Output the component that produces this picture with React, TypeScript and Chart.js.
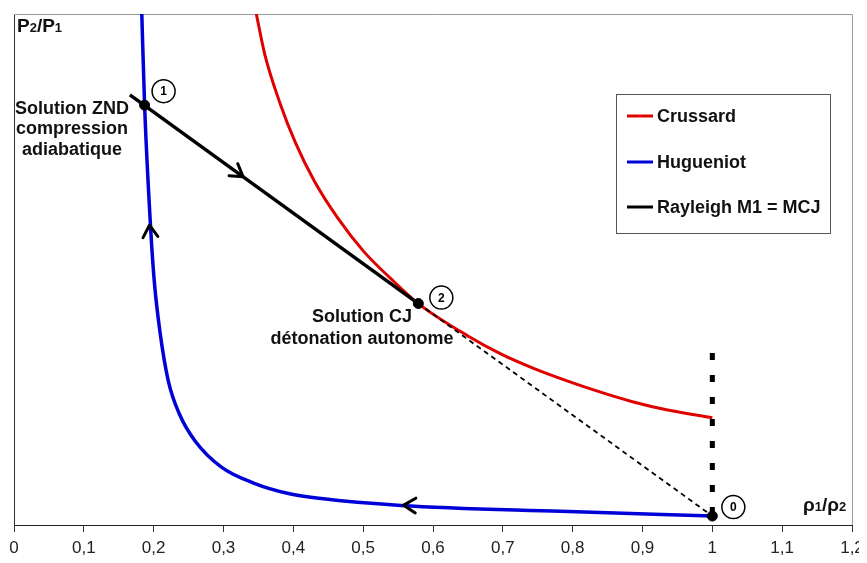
import React, { useEffect, useRef } from 'react';
import { Chart, registerables } from 'chart.js';

Chart.register(...registerables);

// ---- data (x = rho1/rho2, y = P2/P1) ----
const tickLabels = ['0', '0,1', '0,2', '0,3', '0,4', '0,5', '0,6', '0,7', '0,8', '0,9', '1', '1,1', '1,2'];

const crussardX = [0.347, 0.359, 0.381, 0.403, 0.43, 0.464, 0.501, 0.54, 0.579, 0.65, 0.697, 0.744, 0.793, 0.84, 0.887, 0.936, 1.0];
const crussardY = [60, 55.3, 49.5, 44.9, 40.4, 36.0, 32.1, 28.9, 26.0, 22.2, 20.1, 18.4, 16.9, 15.6, 14.45, 13.5, 12.6];

const hugueniotX = [0.183, 0.187, 0.196, 0.201, 0.209, 0.221, 0.237, 0.259, 0.297, 0.344, 0.393, 0.44, 0.554, 0.783, 1.0];
const hugueniotY = [60, 49.3, 34.4, 28.5, 22.7, 16.9, 13.0, 9.9, 6.8, 4.9, 3.7, 3.1, 2.3, 1.6, 1.05];

const rayleighX = [0.166, 0.579];
const rayleighY = [50.5, 26.0];
const rayleighDashX = [0.579, 1.0];
const rayleighDashY = [26.0, 1.05];

const limitX = [1.0, 1.0];
const limitY = [20.2, 1.05];

const stateX = [0.187, 0.579, 1.0];
const stateY = [49.3, 26.0, 1.05];
const stateLabels = ['1', '2', '0'];

// arrows: tip and a point behind it (direction)
const arrowTipX = [0.194, 0.328, 0.558];
const arrowTipY = [35.2, 40.9, 2.33];
const arrowFromX = [0.199, 0.3, 0.6];
const arrowFromY = [30.0, 42.56, 2.2];

const legendNames = ['Crussard', 'Hugueniot', 'Rayleigh M1 = MCJ'];
const legendColors = ['#e00000', '#0000d8', '#000000'];

const FONT = '"Liberation Sans", Arial, Helvetica, sans-serif';

const pts = (xs: number[], ys: number[]) => xs.map((x, i) => ({ x, y: ys[i] }));

const decorPlugin = {
  id: 'decor',
  beforeDatasetsDraw(chart: any) {
    const { ctx, chartArea: a } = chart;
    ctx.save();
    ctx.strokeStyle = '#9a9a9a';
    ctx.lineWidth = 1;
    ctx.beginPath();
    ctx.moveTo(a.left, Math.round(a.top) + 0.5);
    ctx.lineTo(Math.round(a.right) + 0.5, Math.round(a.top) + 0.5);
    ctx.lineTo(Math.round(a.right) + 0.5, a.bottom);
    ctx.stroke();
    ctx.restore();
  },
  afterDatasetsDraw(chart: any) {
    const { ctx } = chart;
    const xs = chart.scales.x;
    const ys = chart.scales.y;
    const px = (v: number) => xs.getPixelForValue(v);
    const py = (v: number) => ys.getPixelForValue(v);
    ctx.save();

    // arrows (open chevrons)
    ctx.strokeStyle = '#000';
    ctx.lineWidth = 3;
    ctx.lineCap = 'round';
    ctx.lineJoin = 'round';
    for (let i = 0; i < arrowTipX.length; i++) {
      const tx = px(arrowTipX[i]);
      const ty = py(arrowTipY[i]);
      const fx = px(arrowFromX[i]);
      const fy = py(arrowFromY[i]);
      const ang = Math.atan2(ty - fy, tx - fx);
      const L = 14;
      const h = (32 * Math.PI) / 180;
      ctx.beginPath();
      ctx.moveTo(tx - L * Math.cos(ang - h), ty - L * Math.sin(ang - h));
      ctx.lineTo(tx, ty);
      ctx.lineTo(tx - L * Math.cos(ang + h), ty - L * Math.sin(ang + h));
      ctx.stroke();
    }

    // circled state numbers
    const offs = [
      [19, -14],
      [23, -6],
      [21, -9],
    ];
    ctx.lineWidth = 1.5;
    for (let i = 0; i < stateX.length; i++) {
      const cx = px(stateX[i]) + offs[i][0];
      const cy = py(stateY[i]) + offs[i][1];
      ctx.beginPath();
      ctx.arc(cx, cy, 11.5, 0, Math.PI * 2);
      ctx.fillStyle = '#fff';
      ctx.fill();
      ctx.stroke();
      ctx.fillStyle = '#000';
      ctx.font = `bold 12px ${FONT}`;
      ctx.textAlign = 'center';
      ctx.textBaseline = 'middle';
      ctx.fillText(stateLabels[i], cx, cy + 1);
    }

    // annotations
    ctx.fillStyle = '#111';
    ctx.textBaseline = 'alphabetic';
    ctx.textAlign = 'center';
    ctx.font = `bold 18px ${FONT}`;
    ctx.fillText('Solution ZND', 64, 106);
    ctx.fillText('compression', 64, 126);
    ctx.fillText('adiabatique', 64, 147);
    ctx.fillText('Solution CJ', 354, 314);
    ctx.fillText('détonation autonome', 354, 336);

    // axis titles with subscripts
    const sub = (parts: [string, boolean][], x: number, y: number) => {
      ctx.textAlign = 'left';
      let cx = x;
      for (const [t, s] of parts) {
        ctx.font = s ? `bold 13px ${FONT}` : `bold 19px ${FONT}`;
        ctx.fillText(t, cx, y);
        cx += ctx.measureText(t).width;
      }
    };
    sub([['P', false], ['2', true], ['/P', false], ['1', true]], 9, 24);
    sub([['ρ', false], ['1', true], ['/ρ', false], ['2', true]], 795, 503);

    ctx.restore();
  },
  afterDraw(chart: any) {
    const { ctx } = chart;
    ctx.save();
    // legend box
    ctx.fillStyle = '#fff';
    ctx.fillRect(608, 86, 214, 139);
    ctx.strokeStyle = '#555';
    ctx.lineWidth = 1;
    ctx.strokeRect(608.5, 86.5, 214, 139);
    const rows = [108, 154, 199];
    for (let i = 0; i < legendNames.length; i++) {
      ctx.strokeStyle = legendColors[i];
      ctx.lineWidth = 3;
      ctx.beginPath();
      ctx.moveTo(619, rows[i]);
      ctx.lineTo(645, rows[i]);
      ctx.stroke();
      ctx.fillStyle = '#111';
      ctx.font = `bold 18px ${FONT}`;
      ctx.textAlign = 'left';
      ctx.textBaseline = 'middle';
      ctx.fillText(legendNames[i], 649, rows[i] + 1);
    }
    ctx.restore();
  },
};

export default function App() {
  const ref = useRef<HTMLCanvasElement | null>(null);

  useEffect(() => {
    document.body.style.overflow = 'hidden';
    if (!ref.current) return;
    Chart.defaults.font.family = FONT;
    const chart = new Chart(ref.current, {
      type: 'line',
      data: {
        datasets: [
          {
            label: 'points',
            data: pts(stateX, stateY),
            showLine: false,
            pointRadius: 5,
            pointBackgroundColor: '#000',
            pointBorderColor: '#000',
            order: 0,
          },
          {
            label: 'Rayleigh M1 = MCJ',
            data: pts(rayleighX, rayleighY),
            borderColor: '#000',
            borderWidth: 3.5,
            pointRadius: 0,
            order: 1,
          },
          {
            label: 'Rayleigh (prolongement)',
            data: pts(rayleighDashX, rayleighDashY),
            borderColor: '#000',
            borderWidth: 1.8,
            borderDash: [5, 4],
            pointRadius: 0,
            order: 2,
          },
          {
            label: 'limite',
            data: pts(limitX, limitY),
            borderColor: '#000',
            borderWidth: 5,
            borderDash: [7, 15],
            borderCapStyle: 'butt',
            pointRadius: 0,
            order: 3,
          },
          {
            label: 'Hugueniot',
            data: pts(hugueniotX, hugueniotY),
            borderColor: '#0000d8',
            borderWidth: 3.5,
            pointRadius: 0,
            cubicInterpolationMode: 'monotone',
            order: 4,
          },
          {
            label: 'Crussard',
            data: pts(crussardX, crussardY),
            borderColor: '#e00000',
            borderWidth: 3,
            pointRadius: 0,
            cubicInterpolationMode: 'monotone',
            order: 5,
          },
        ],
      },
      options: {
        animation: false,
        responsive: false,
        maintainAspectRatio: false,
        layout: { padding: { left: 4, right: 7, top: 2, bottom: 0 } },
        plugins: {
          legend: { display: false },
          tooltip: { enabled: false },
        },
        scales: {
          x: {
            type: 'linear',
            min: 0,
            max: 1.2,
            ticks: {
              stepSize: 0.1,
              autoSkip: false,
              maxRotation: 0,
              padding: 6,
              color: '#222',
              font: { size: 17, family: FONT },
              callback: (_v: any, i: number) => tickLabels[i] ?? '',
            },
            grid: { drawOnChartArea: false, drawTicks: true, tickLength: 7, color: '#333' },
            border: { display: true, color: '#222', width: 1 },
            afterFit: (s: any) => {
              s.paddingLeft = 0;
              s.paddingRight = 0;
              s.height = 38;
            },
          },
          y: {
            type: 'linear',
            min: 0,
            max: 60,
            ticks: { display: false },
            grid: { display: false, drawTicks: false },
            border: { display: true, color: '#333', width: 1 },
            afterFit: (s: any) => {
              s.width = 0;
            },
          },
        },
      },
      plugins: [decorPlugin],
    } as any);
    return () => chart.destroy();
  }, []);

  return (
    <div style={{ width: 851, height: 555 }}>
      <canvas ref={ref} width={851} height={555} style={{ display: 'block' }} />
    </div>
  );
}
